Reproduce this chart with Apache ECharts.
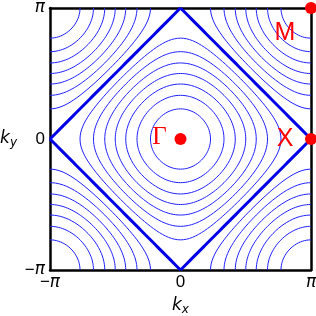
<!DOCTYPE html>
<html><head><meta charset="utf-8">
<script src="https://cdn.jsdelivr.net/npm/echarts@6/dist/echarts.min.js"></script>
<style>html,body{margin:0;padding:0;background:#fff}#c{width:316px;height:316px}</style>
</head><body><div id="c"></div>
<script>
// contour levels of cos(kx)+cos(ky)
const levels = [-1.75,-1.5,-1.25,-1,-0.75,-0.5,-0.25,0.25,0.5,0.75,1,1.25,1.5,1.75];
const fermiLevels = [0];
// tick values (in units of pi) and labels
const tickValues = [-1,0,1];
const tickLabels = ['{n|−}{i|π}','{n|0}','{i|π}'];
// high-symmetry points (in units of pi)
const pointNames = ['Γ','X','M'];
const pointKx = [0,1,1];
const pointKy = [0,0,1];

const PI = Math.PI;
function clamp(v){return Math.max(-1,Math.min(1,v));}
function quadArc(c){
  const d = Math.acos(c/2);
  const N = 40;
  const half = [];
  if (c >= 0){
    for (let i=0;i<=N;i++){ const kx = d*i/N; half.push([kx, Math.acos(clamp(c-Math.cos(kx)))]); }
    const sw = half.map(p=>[p[1],p[0]]).reverse();
    return half.concat(sw);
  } else {
    for (let i=0;i<=N;i++){ const kx = d+(PI-d)*i/N; half.push([kx, Math.acos(clamp(c-Math.cos(kx)))]); }
    const sw = half.map(p=>[p[1],p[0]]).reverse();
    return sw.concat(half);
  }
}
function levelSeries(c, style){
  const arc = quadArc(c);
  const out = [];
  [[1,1],[-1,1],[-1,-1],[1,-1]].forEach(s=>{
    out.push(Object.assign({
      type:'line', showSymbol:false, symbol:'none', silent:true, animation:false,
      data: arc.map(p=>[s[0]*p[0]/PI, s[1]*p[1]/PI])
    }, style));
  });
  return out;
}
let series = [];
levels.forEach(c=>{ series = series.concat(levelSeries(c,{lineStyle:{color:'#2020ff',width:1}, z:2})); });
fermiLevels.forEach(c=>{ series = series.concat(levelSeries(c,{lineStyle:{color:'#0000e6',width:3}, z:3})); });

const labelOffsets = [[-21,-2],[-26,0],[-26,25]];
const labelFonts = ['Liberation Serif','Liberation Sans','Liberation Sans'];
series.push({
  type:'scatter', symbolSize:12, clip:false, z:10, animation:false,
  itemStyle:{color:'#ff0000', opacity:1},
  emphasis:{disabled:true},
  data: pointNames.map((n,i)=>({
    value:[pointKx[i],pointKy[i]], name:n,
    label:{show:true, formatter:n, position:'inside', offset:labelOffsets[i],
      color:'#ff0000', fontSize:25, fontFamily:labelFonts[i]}
  }))
});

const labelRich = {
  n:{fontSize:17, color:'#000', fontFamily:'Liberation Sans'},
  i:{fontSize:17, color:'#000', fontStyle:'italic', fontFamily:'DejaVu Sans'}
};
function fmt(v){ const k = tickValues.indexOf(Math.round(v)); return k>=0 ? tickLabels[k] : ''; }
const nameRich = {
  k:{fontSize:17, fontStyle:'italic', fontFamily:'DejaVu Sans', color:'#000'},
  s:{fontSize:12, fontStyle:'italic', fontFamily:'DejaVu Sans', color:'#000', padding:[8,0,0,0]}
};
const chart = echarts.init(document.getElementById('c'), null, {renderer:'canvas'});
chart.setOption({
  animation:false,
  grid:{left:50, right:5, top:8, bottom:46, show:false, containLabel:false, outerBoundsMode:'none'},
  xAxis:[
    {type:'value', min:-1, max:1, interval:1, position:'bottom',
     name:'{k|k}{s|x}', nameLocation:'middle', nameGap:26, nameTextStyle:{rich:nameRich},
     axisLine:{show:true, onZero:false, lineStyle:{color:'#000', width:2.5}}, axisTick:{show:false},
     splitLine:{show:false}, axisLabel:{formatter:fmt, rich:labelRich, margin:4}},
    {type:'value', min:-1, max:1, position:'top',
     axisLine:{show:true, onZero:false, lineStyle:{color:'#000', width:2.5}}, axisTick:{show:false},
     splitLine:{show:false}, axisLabel:{show:false}}
  ],
  yAxis:[
    {type:'value', min:-1, max:1, interval:1, position:'left',
     name:'{k|k}{s|y}', nameLocation:'middle', nameGap:33, nameRotate:0, nameTextStyle:{rich:nameRich},
     axisLine:{show:true, onZero:false, lineStyle:{color:'#000', width:2.5}}, axisTick:{show:false},
     splitLine:{show:false}, axisLabel:{formatter:fmt, rich:labelRich, margin:5}},
    {type:'value', min:-1, max:1, position:'right',
     axisLine:{show:true, onZero:false, lineStyle:{color:'#000', width:2.5}}, axisTick:{show:false},
     splitLine:{show:false}, axisLabel:{show:false}}
  ],
  series: series
});
</script></body></html>
